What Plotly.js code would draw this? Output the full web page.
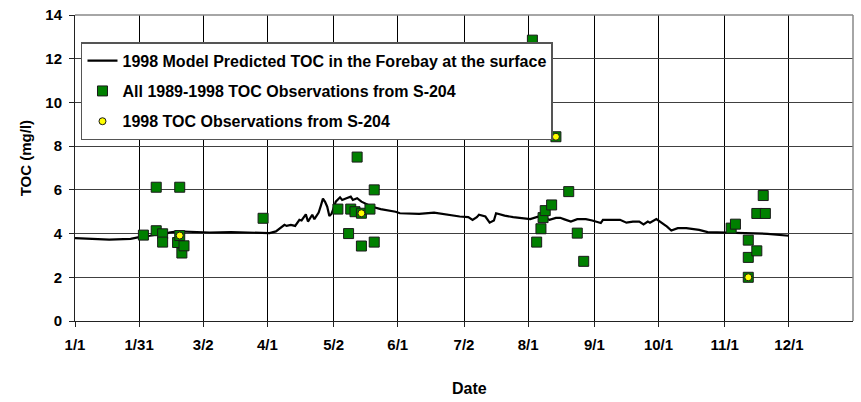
<!DOCTYPE html>
<html><head><meta charset="utf-8">
<script src="https://cdn.plot.ly/plotly-3.0.1.min.js"></script>
<style>html,body{margin:0;padding:0;background:#fff}#chart{width:861px;height:402px}</style>
</head><body><div id="chart"></div>
<script>
// Model predicted TOC (mg/l) in the Forebay at the surface, 1998
const modelDates = ['1998-01-01','1998-01-08','1998-01-17','1998-01-27','1998-01-31','1998-02-05','1998-02-10','1998-02-12','1998-02-14','1998-02-18','1998-02-24','1998-03-05','1998-03-15','1998-03-24','1998-03-29','1998-04-02','1998-04-05','1998-04-07','1998-04-09','1998-04-10','1998-04-12','1998-04-14','1998-04-16','1998-04-17','1998-04-19','1998-04-20','1998-04-22','1998-04-23','1998-04-25','1998-04-26','1998-04-27','1998-04-28','1998-04-29','1998-04-30','1998-05-01','1998-05-02','1998-05-03','1998-05-05','1998-05-06','1998-05-08','1998-05-10','1998-05-11','1998-05-13','1998-05-15','1998-05-18','1998-05-20','1998-05-24','1998-05-27','1998-05-31','1998-06-02','1998-06-07','1998-06-11','1998-06-18','1998-06-24','1998-06-30','1998-07-04','1998-07-06','1998-07-08','1998-07-09','1998-07-12','1998-07-14','1998-07-16','1998-07-17','1998-07-21','1998-07-25','1998-08-02','1998-08-06','1998-08-09','1998-08-11','1998-08-14','1998-08-16','1998-08-18','1998-08-21','1998-08-24','1998-08-28','1998-08-31','1998-09-04','1998-09-05','1998-09-13','1998-09-16','1998-09-19','1998-09-22','1998-09-24','1998-09-26','1998-09-27','1998-09-30','1998-10-03','1998-10-05','1998-10-07','1998-10-10','1998-10-14','1998-10-20','1998-10-24','1998-10-30','1998-11-11','1998-11-21','1998-12-01'];
const modelTOC = [3.79,3.76,3.72,3.76,3.84,3.90,3.98,3.95,4.05,4.10,4.07,4.05,4.07,4.05,4.03,4.02,4.10,4.25,4.40,4.35,4.40,4.35,4.63,4.60,4.88,4.55,4.86,4.66,4.96,5.27,5.60,5.45,5.23,4.80,4.90,5.16,5.46,5.66,5.54,5.62,5.69,5.54,5.62,5.46,5.31,5.23,5.12,5.08,5.00,4.93,4.90,4.90,4.96,4.86,4.78,4.75,4.62,4.75,4.86,4.78,4.50,4.60,4.93,4.82,4.75,4.66,4.78,4.70,4.63,4.72,4.72,4.65,4.55,4.66,4.66,4.60,4.48,4.63,4.63,4.50,4.55,4.55,4.42,4.55,4.50,4.66,4.48,4.32,4.14,4.25,4.25,4.17,4.07,4.05,4.02,3.99,3.90];

// All 1989-1998 TOC observations from S-204 (plotted by day of year)
const allObsDates = ['1998-02-02','1998-02-08','1998-02-08','1998-02-11','1998-02-11','1998-02-18','1998-02-19','1998-02-19','1998-02-20','1998-02-21','1998-03-30','1998-05-04','1998-05-09','1998-05-10','1998-05-12','1998-05-13','1998-05-15','1998-05-15','1998-05-19','1998-05-21','1998-05-21','1998-08-03','1998-08-05','1998-08-07','1998-08-08','1998-08-09','1998-08-12','1998-08-14','1998-08-20','1998-08-24','1998-08-27','1998-11-04','1998-11-06','1998-11-12','1998-11-12','1998-11-12','1998-11-16','1998-11-16','1998-11-19','1998-11-20'];
const allObsTOC = [3.93,6.12,4.13,3.99,3.61,3.59,6.12,3.91,3.11,3.44,4.70,5.12,4.00,5.12,5.00,7.50,4.93,3.43,5.12,6.00,3.61,12.85,3.61,4.22,4.73,5.05,5.31,8.43,5.92,4.02,2.73,4.25,4.43,3.70,2.91,2.00,4.92,3.21,5.74,4.92];

// 1998 TOC observations from S-204
const obs1998Dates = ['1998-02-19','1998-05-15','1998-08-14','1998-11-12'];
const obs1998TOC = [3.91,4.93,8.43,2.00];

// Axis ticks
const tickDates = ['1998-01-01','1998-01-31','1998-03-02','1998-04-01','1998-05-02','1998-06-01','1998-07-02','1998-08-01','1998-09-01','1998-10-01','1998-11-01','1998-12-01'];
const tickLabels = ['1/1','1/31','3/2','4/1','5/2','6/1','7/2','8/1','9/1','10/1','11/1','12/1'];
const yTicks = [0,2,4,6,8,10,12,14];

const seriesNames = ['1998 Model Predicted TOC in the Forebay at the surface','All 1989-1998 TOC Observations from S-204','1998 TOC Observations from S-204'];
const xTitle = 'Date';
const yTitle = 'TOC (mg/l)';

const FONT = 'Liberation Sans, Arial, sans-serif';

const traces = [
  {x: modelDates, y: modelTOC, type: 'scatter', mode: 'lines', name: seriesNames[0], legendgroup: 'a',
   line: {color: '#000000', width: 2.2}},
  {x: allObsDates, y: allObsTOC, type: 'scatter', mode: 'markers', name: seriesNames[1], legendgroup: 'b',
   marker: {symbol: 'square', size: 10, color: '#008000', line: {color: '#1a1a1a', width: 1}}},
  {x: obs1998Dates, y: obs1998TOC, type: 'scatter', mode: 'markers', name: seriesNames[2], legendgroup: 'c',
   marker: {symbol: 'circle', size: 7, color: '#FFFF00', line: {color: '#1a1a1a', width: 1}}}
];

const layout = {
  width: 861, height: 402,
  margin: {l: 75, r: 8, t: 14.5, b: 80.5},
  paper_bgcolor: '#ffffff', plot_bgcolor: '#ffffff',
  font: {family: FONT, size: 15, color: '#000000', weight: 'bold'},
  showlegend: true,
  legend: {
    x: 0.0077, y: 0.911, xanchor: 'left', yanchor: 'top',
    bgcolor: '#ffffff', bordercolor: '#555555', borderwidth: 1.5,
    font: {family: FONT, size: 16, color: '#000000', weight: 'bold'},
    tracegroupgap: 6.5, traceorder: 'grouped'
  },
  xaxis: {
    type: 'date', range: ['1998-01-01', '1998-12-31'],
    tickmode: 'array', tickvals: tickDates, ticktext: tickLabels,
    showgrid: true, gridcolor: '#000000', gridwidth: 1,
    showline: true, linecolor: '#222222', linewidth: 1,
    ticks: 'outside', ticklen: 5, tickcolor: '#222222',
    ticklabelstandoff: 5,
    tickfont: {family: FONT, size: 15, weight: 'bold'},
    zeroline: false
  },
  yaxis: {
    range: [0, 14], tickmode: 'array', tickvals: yTicks,
    showgrid: true, gridcolor: '#404040', gridwidth: 1,
    showline: true, linecolor: '#222222', linewidth: 1,
    ticks: 'outside', ticklen: 5, tickcolor: '#222222',
    ticklabelstandoff: 4,
    tickfont: {family: FONT, size: 15, weight: 'bold'},
    zeroline: false
  },
  annotations: [
    {text: xTitle, xref: 'paper', yref: 'paper', x: 0.507, y: -0.22, xanchor: 'center', yanchor: 'middle',
     showarrow: false, font: {family: FONT, size: 16, weight: 'bold', color: '#000000'}},
    {text: yTitle, xref: 'paper', yref: 'paper', x: -0.0639, y: 0.5326, xanchor: 'center', yanchor: 'middle',
     textangle: -90, showarrow: false, font: {family: FONT, size: 15, weight: 'bold', color: '#000000'}}
  ],
  shapes: [
    {type: 'line', xref: 'paper', yref: 'paper', x0: 0, x1: 1, y0: 1, y1: 1, line: {color: '#888888', width: 1.5}, layer: 'above'},
    {type: 'line', xref: 'paper', yref: 'paper', x0: 1, x1: 1, y0: 0, y1: 1, line: {color: '#888888', width: 1.5}, layer: 'above'}
  ]
};

Plotly.newPlot('chart', traces, layout, {displayModeBar: false, staticPlot: true});
</script>
</body></html>
